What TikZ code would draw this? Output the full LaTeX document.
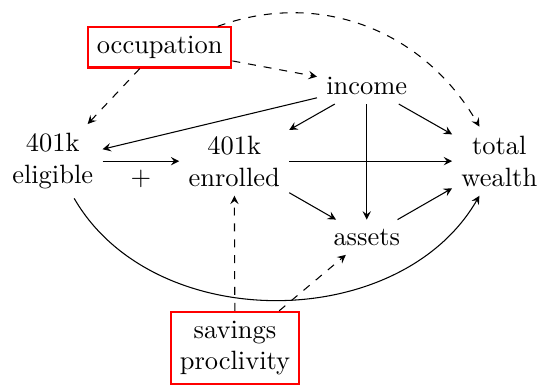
\documentclass[tikz,border=0pt]{standalone}
\usepackage{tikz}
\tikzset{var/.style={align=center}, latent/.style={draw=red, thick, align=center}}

\begin{document}
\begin{tikzpicture}[>=stealth]
			%%%%% START %%%%%
			\useasboundingbox (0, 0) rectangle (7.13, 5.10);
			
			\node[latent] (occ) at (2.12, 4.47) {occupation};
			\node[var] (inc) at (4.87, 3.96) {income};
			\node[var] (elig) at (0.70, 2.96) {401k\\eligible};
			\node[var] (enr) at (3.11, 2.96) {401k\\enrolled};
			\node[var] (tw) at (6.63, 2.96) {total\\wealth};
			\node[var] (ast) at (4.87, 1.95) {assets};
			\node[latent] (sav) at (3.12, 0.48) {savings\\proclivity};
			
			\draw[->, dashed] (occ) -- (elig);
			\draw[->, dashed] (occ) -- (inc);
			\draw[->, dashed] (occ) to[out=20, in=120] (tw);
			
			\draw[->] (inc) -- (elig);
			\draw[->] (inc) -- (enr);
			\draw[->] (inc) -- (ast);
			\draw[->] (inc) -- (tw);
			
			\draw[->] (elig) -- node[below] {$+$} (enr);
			\draw[->] (enr) -- (tw);
			\draw[->] (enr) -- (ast);
			\draw[->] (ast) -- (tw);
			\draw[->] (elig) to[out=-60, in=-120] (tw);
			
			\draw[->, dashed] (sav) -- (enr);
			\draw[->, dashed] (sav) -- (ast);
			%%%%% END %%%%%
		\end{tikzpicture}
\end{document}
